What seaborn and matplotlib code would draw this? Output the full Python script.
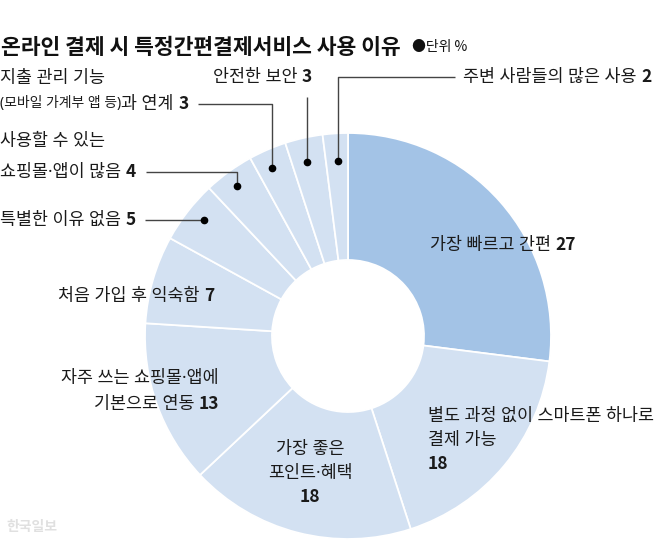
import matplotlib
matplotlib.use("Agg")
import matplotlib.pyplot as plt
import seaborn as sns

# data (clockwise from 12 o'clock)
reasons = ["가장 빠르고 간편", "별도 과정 없이 스마트폰 하나로 결제 가능", "가장 좋은 포인트·혜택",
           "자주 쓰는 쇼핑몰·앱에 기본으로 연동", "처음 가입 후 익숙함", "특별한 이유 없음",
           "사용할 수 있는 쇼핑몰·앱이 많음", "지출 관리 기능 (모바일 가계부 앱 등)과 연계",
           "안전한 보안", "주변 사람들의 많은 사용"]
shares = [27, 18, 18, 13, 7, 5, 4, 3, 3, 2]

sns.set_theme(style="white")
plt.rcParams['font.family'] = ['Noto Sans', 'Noto Sans CJK KR', 'DejaVu Sans']
CJK = ['Noto Sans CJK KR', 'DejaVu Sans']

W, H = 658, 543
fig = plt.figure(figsize=(W / 100, H / 100), dpi=100)
ax = fig.add_axes([0, 0, 1, 1])


def Y(y):
    return H - y


dark = "#a3c3e6"
light = "#d3e1f2"
colors = [dark] + [light] * (len(shares) - 1)
cx, cy, R = 348, Y(336), 203

ax.pie(shares, colors=colors, startangle=90, counterclock=False, center=(cx, cy), radius=R,
       wedgeprops=dict(width=R - 76, edgecolor="white", linewidth=1.3), frame=True)
ax.set_xlim(0, W)
ax.set_ylim(0, H)
ax.axis('off')

# title
ax.text(1, Y(47), "온라인 결제 시 특정간편결제서비스 사용 이유", fontsize=15.5, fontweight='bold',
        color="#111111", va='center', ha='left', family=CJK)
ax.text(412, Y(47), "●단위 %", fontsize=10, color="#111111", va='center', ha='left', family=CJK)

fs = 12.5
tc = "#1a1a1a"


def num_text(x, y, num, ha='left', va='center'):
    return ax.text(x, y, str(num), fontsize=fs, fontweight='bold', color=tc,
                   va=va, ha=ha, family=CJK)


def label_num(x, y, s, num, ha='left'):
    # regular text followed by a bold number
    if ha == 'left':
        t = ax.text(x, Y(y), s + " ", fontsize=fs, color=tc, va='center', ha='left')
        ax.annotate(str(num), xycoords=t, xy=(1, 0.5), va='center', ha='left',
                    fontsize=fs, fontweight='bold', color=tc, family=CJK)
    else:
        n = num_text(x, Y(y), num, ha='right')
        ax.annotate(s + " ", xycoords=n, xy=(0, 0.5), va='center', ha='right', fontsize=fs, color=tc)


lc = "#444444"


def leader(pts):
    xs = [p[0] for p in pts]
    ys = [Y(p[1]) for p in pts]
    ax.plot(xs, ys, color=lc, lw=1.0, solid_capstyle='butt')
    ax.plot(xs[-1], ys[-1], 'o', color="black", ms=4.5)


# inside labels
label_num(430, 245, "가장 빠르고 간편", shares[0])
ax.text(428, Y(416), "별도 과정 없이 스마트폰 하나로", fontsize=fs, color=tc, va='center')
ax.text(428, Y(440), "결제 가능", fontsize=fs, color=tc, va='center')
num_text(428, Y(464), shares[1])
ax.text(310, Y(449), "가장 좋은", fontsize=fs, color=tc, va='center', ha='center')
ax.text(310, Y(473), "포인트·혜택", fontsize=fs, color=tc, va='center', ha='center')
num_text(310, Y(497), shares[2], ha='center')
ax.text(219, Y(378), "자주 쓰는 쇼핑몰·앱에", fontsize=fs, color=tc, va='center', ha='right')
label_num(219, 404, "기본으로 연동", shares[3], ha='right')
label_num(214, 296, "처음 가입 후 익숙함", shares[4], ha='right')

# outside labels with leaders
label_num(0, 220, "특별한 이유 없음", shares[5])
leader([(145, 220), (204, 220)])

ax.text(0, Y(141), "사용할 수 있는", fontsize=fs, color=tc, va='center')
label_num(0, 172, "쇼핑몰·앱이 많음", shares[6])
leader([(146, 172), (237, 172), (237, 186)])

ax.text(0, Y(78), "지출 관리 기능", fontsize=fs, color=tc, va='center')
t = ax.text(0, Y(104), "(모바일 가계부 앱 등)", fontsize=10, color=tc, va='center')
t2 = ax.annotate("과 연계 ", xycoords=t, xy=(1, 0.5), va='center', ha='left', fontsize=fs, color=tc)
ax.annotate(str(shares[7]), xycoords=t2, xy=(1, 0.5), va='center', ha='left',
            fontsize=fs, fontweight='bold', color=tc, family=CJK)
leader([(198, 104), (272, 104), (272, 168)])

label_num(213, 77, "안전한 보안", shares[8])
leader([(307, 97), (307, 162)])

label_num(463, 77, "주변 사람들의 많은 사용", shares[9])
leader([(455, 77), (338, 77), (338, 161)])

# watermark
ax.text(6, Y(527), "한국일보", fontsize=10, fontweight='bold', color="#e0e0e0", va='center', family=CJK)

fig.savefig("out.png", dpi=100)
